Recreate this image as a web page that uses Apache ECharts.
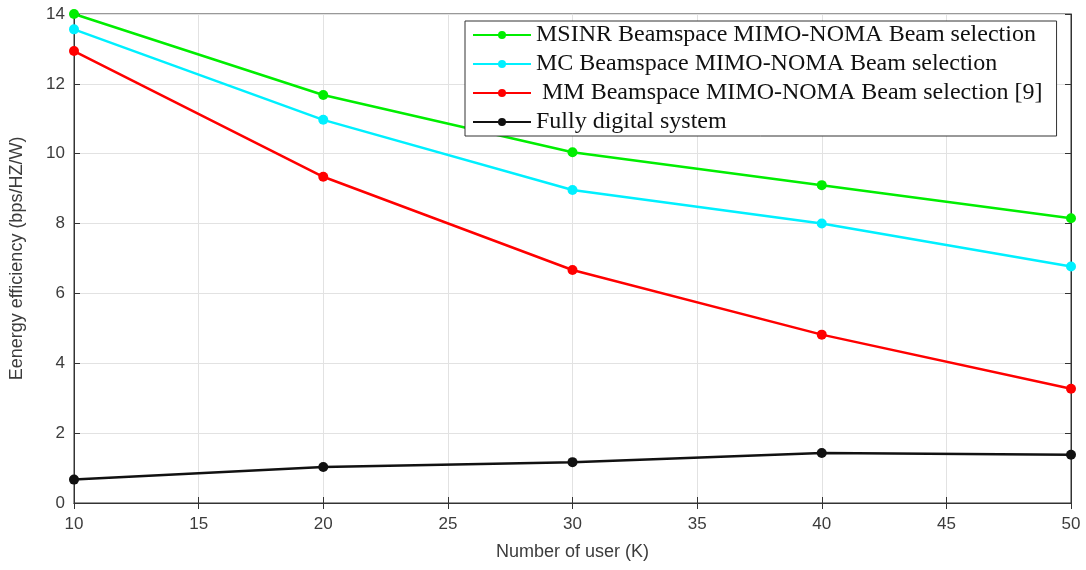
<!DOCTYPE html>
<html>
<head>
<meta charset="utf-8">
<script src="https://cdn.jsdelivr.net/npm/echarts@6/dist/echarts.min.js"></script>
<style>
  html, body { margin: 0; padding: 0; background: #fff; }
  #chart { width: 1086px; height: 570px; }
</style>
</head>
<body>
<div id="chart"></div>
<script>
  var users = [10, 20, 30, 40, 50];
  var msinr = [14.0, 11.68, 10.04, 9.1, 8.15];
  var mc = [13.56, 10.97, 8.96, 8.0, 6.77];
  var mm = [12.94, 9.34, 6.67, 4.82, 3.27];
  var digital = [0.67, 1.03, 1.17, 1.43, 1.38];

  var names = [
    'MSINR Beamspace MIMO-NOMA Beam selection',
    'MC Beamspace MIMO-NOMA Beam selection',
    ' MM Beamspace MIMO-NOMA Beam selection [9]',
    'Fully digital system'
  ];
  var colors = ['#00ee00', '#00f0ff', '#ff0000', '#111111'];
  var values = [msinr, mc, mm, digital];

  function pairs(arr) {
    return users.map(function (u, i) {
      return [u, arr[i]];
    });
  }

  var series = names.map(function (n, i) {
    return {
      name: n,
      type: 'line',
      data: pairs(values[i]),
      symbol: 'circle',
      symbolSize: 10,
      color: colors[i],
      lineStyle: { width: 2.5, color: colors[i] },
      itemStyle: { color: colors[i] },
      animation: false
    };
  });

  var tickLabel = { color: '#3c3c3c', fontSize: 17, fontFamily: 'Liberation Sans, Arial' };
  var gridLine = { show: true, lineStyle: { color: '#e2e2e2', width: 1 } };

  var option = {
    backgroundColor: '#fff',
    grid: {
      left: 71,
      right: 15,
      top: 14,
      bottom: 67,
      show: true,
      borderColor: '#333',
      borderWidth: 1
    },
    legend: {
      orient: 'vertical',
      left: 465,
      top: 21,
      padding: [2, 14, 2, 7],
      itemGap: 5,
      itemWidth: 58,
      itemHeight: 10,
      borderColor: '#333',
      borderWidth: 1,
      backgroundColor: '#fff',
      textStyle: { fontFamily: 'Liberation Serif, Times New Roman', fontSize: 24, lineHeight: 23, color: '#111' },
      data: names
    },
    xAxis: [
      {
        type: 'value',
        min: 10,
        max: 50,
        interval: 5,
        name: 'Number of user (K)',
        nameLocation: 'middle',
        nameGap: 40,
        nameTextStyle: { color: '#3c3c3c', fontSize: 18, fontFamily: 'Liberation Sans, Arial' },
        axisLine: { show: true, lineStyle: { color: '#333' } },
        axisTick: { show: true, inside: true, length: 6, lineStyle: { color: '#333' } },
        axisLabel: Object.assign({ margin: 13 }, tickLabel),
        splitLine: gridLine
      },
      {
        type: 'value',
        position: 'top',
        min: 10,
        max: 50,
        interval: 5,
        axisLine: { show: true, lineStyle: { color: '#333' } },
        axisTick: { show: true, inside: true, length: 6, lineStyle: { color: '#333' } },
        axisLabel: { show: false },
        splitLine: { show: false }
      }
    ],
    yAxis: [
      {
        type: 'value',
        min: 0,
        max: 14,
        interval: 2,
        name: 'Eenergy efficiency (bps/HZ/W)',
        nameLocation: 'middle',
        nameGap: 48,
        nameTextStyle: { color: '#3c3c3c', fontSize: 18, fontFamily: 'Liberation Sans, Arial' },
        axisLine: { show: true, lineStyle: { color: '#333' } },
        axisTick: { show: true, inside: true, length: 6, lineStyle: { color: '#333' } },
        axisLabel: Object.assign({ margin: 9 }, tickLabel),
        splitLine: gridLine
      },
      {
        type: 'value',
        position: 'right',
        min: 0,
        max: 14,
        interval: 2,
        axisLine: { show: true, lineStyle: { color: '#333' } },
        axisTick: { show: true, inside: true, length: 6, lineStyle: { color: '#333' } },
        axisLabel: { show: false },
        splitLine: { show: false }
      }
    ],
    series: series
  };

  var chart = echarts.init(document.getElementById('chart'));
  chart.setOption(option);
</script>
</body>
</html>
